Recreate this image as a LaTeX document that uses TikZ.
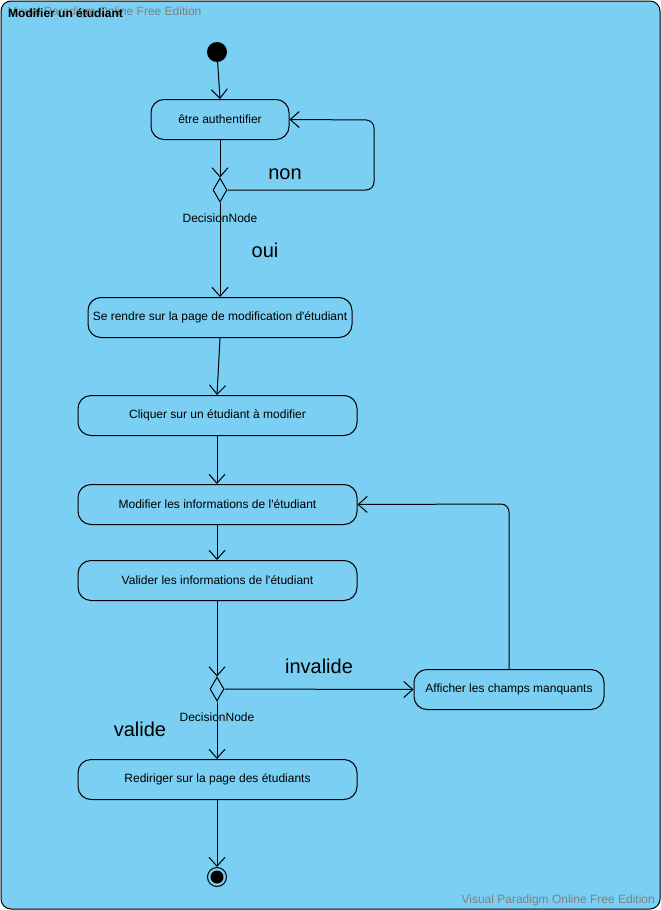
\documentclass[tikz,border=0pt]{standalone}
\usepackage{fontspec}
\setmainfont{Liberation Sans}
\usetikzlibrary{arrows.meta,shapes.geometric}
\definecolor{bg}{RGB}{122,207,243}
\definecolor{wm}{RGB}{128,128,128}
\tikzset{
  px/.style={x=1pt,y=-1pt},
  act/.style={draw,line width=1pt,rounded corners=13pt,fill=bg,minimum height=40pt,inner sep=0pt,font=\fontsize{12}{14}\selectfont},
  dec/.style={draw,line width=1pt,diamond,fill=bg,minimum width=14pt,minimum height=24pt,inner sep=0pt,aspect=0.58},
  flow/.style={line width=1pt,-{Straight Barb[length=9pt,width=16pt,line width=1pt]}},
  big/.style={font=\fontsize{20}{24}\selectfont},
  small/.style={font=\fontsize{12}{14}\selectfont},
}
\begin{document}
\begin{tikzpicture}[px]
\useasboundingbox (0,0) rectangle (661,910);
\draw[line width=1pt,fill=bg,rounded corners=10pt] (1,1) rectangle (660,909);
\node[anchor=west,text=wm,small,inner sep=0pt] (wm1) at (8,12) {Visual Paradigm Online Free Edition};
\node[anchor=west,small,inner sep=0pt] (title) at (8,13) {\bfseries Modifier un étudiant};
\node[anchor=east,text=wm,small,inner sep=0pt] (wm2) at (655,900) {Visual Paradigm Online Free Edition};

\node[circle,fill=black,minimum size=20pt,inner sep=0pt] (init) at (217,52) {};
\node[act,minimum width=138pt] (a1) at (220,119.5) {être authentifier};
\node[dec] (d1) at (220,190) {};
\node[small,inner sep=0pt] (dn1) at (220,218) {DecisionNode};
\node[act,minimum width=264pt] (a2) at (220,317.5) {Se rendre sur la page de modification d\textquotesingle étudiant};
\node[act,minimum width=279pt] (a3) at (217.5,415.5) {Cliquer sur un étudiant à modifier};
\node[act,minimum width=279pt] (a4) at (217.5,504.5) {Modifier les informations de l\textquotesingle étudiant};
\node[act,minimum width=279pt] (a5) at (217.5,580.5) {Valider les informations de l\textquotesingle étudiant};
\node[dec] (d2) at (217,689) {};
\node[small,inner sep=0pt] (dn2) at (217,717) {DecisionNode};
\node[act,minimum width=190pt] (a6) at (509,689.5) {Afficher les champs manquants};
\node[act,minimum width=279pt] (a7) at (217.5,779.5) {Rediriger sur la page des étudiants};
\node[circle,draw,line width=1pt,fill=bg,minimum size=19pt,inner sep=0pt] (fin) at (217,877) {};
\node[circle,fill=black,minimum size=13pt,inner sep=0pt] (fini) at (217,877) {};

\coordinate (c1) at (374,190);
\coordinate (c2) at (374,120);
\coordinate (c3) at (509,504);

\draw[flow] (init) -- (a1.north);
\draw[flow] (a1.south) -- (d1.north);
\draw[flow,rounded corners=8pt] (d1.east) -- (c1) -- (c2) -- (a1.east);
\draw[flow] (d1.south) -- (a2.north);
\draw[flow] (a2.south) -- (a3.north -| 217,0);
\draw[flow] (a3.south -| 217,0) -- (a4.north -| 217,0);
\draw[flow] (a4.south -| 217,0) -- (a5.north -| 217,0);
\draw[flow] (a5.south -| 217,0) -- (d2.north);
\draw[flow] (d2.east) -- (a6.west);
\draw[flow,rounded corners=8pt] (a6.north) -- (c3) -- (a4.east);
\draw[flow] (d2.south) -- (a7.north -| 217,0);
\draw[flow] (a7.south -| 217,0) -- (fin.north);

\node[big,inner sep=0pt] (lnon) at (285,174.5) {non};
\node[big,inner sep=0pt] (loui) at (265,250.5) {oui};
\node[big,inner sep=0pt] (linv) at (319,666.5) {invalide};
\node[big,inner sep=0pt] (lval) at (140,729.5) {valide};
\end{tikzpicture}
\end{document}
